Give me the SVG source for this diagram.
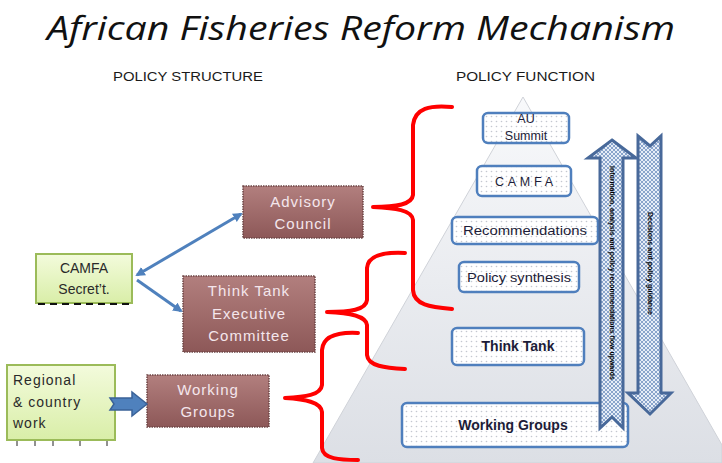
<svg xmlns="http://www.w3.org/2000/svg" width="722" height="463" viewBox="0 0 722 463">
  <defs>
    <style>
      .title { font-family: "Open Sans", "Liberation Sans", sans-serif; font-style: italic; font-size: 33px; fill: #111; }
      .head { font-family: "Liberation Sans", sans-serif; font-size: 12px; fill: #1a1a1a; }
      .brown { stroke: #6e4545; stroke-width: 1.5; stroke-dasharray: 1.5 1; }
      .btxt { font-family: "Liberation Sans", sans-serif; font-size: 15px; fill: #f4e6ec; letter-spacing: 1px; text-anchor: middle; }
      .green { fill: url(#gGreen); stroke: #9bbb59; stroke-width: 2; }
      .gtxt { font-family: "Liberation Sans", sans-serif; font-size: 14px; fill: #2a2a2a; }
      .pbox { fill: url(#dots); stroke: #4f7fbd; stroke-width: 2.5; }
      .ptxt { font-family: "Liberation Sans", sans-serif; font-size: 12.5px; fill: #1c1c38; text-anchor: middle; }
      .pbold { font-weight: bold; font-size: 14px; }
      .brace { fill: none; stroke: #ff0000; stroke-width: 4; stroke-linecap: round; stroke-linejoin: round; }
      .conn { fill: none; stroke: #4f81bd; stroke-width: 3; }
      .flow { fill: url(#hatch); stroke: #48699a; stroke-width: 3; stroke-linejoin: miter; }
      .vtxt { font-family: "Liberation Sans", sans-serif; font-size: 6.5px; font-weight: bold; fill: #000; }
    </style>
    <linearGradient id="gPyr" x1="0" y1="0" x2="0" y2="1">
      <stop offset="0" stop-color="#f8f9fb"/>
      <stop offset="1" stop-color="#dcdfe5"/>
    </linearGradient>
    <linearGradient id="gBrown" x1="0" y1="0" x2="0" y2="1">
      <stop offset="0" stop-color="#b27f7e"/>
      <stop offset="1" stop-color="#8d5858"/>
    </linearGradient>
    <linearGradient id="gGreen" x1="0" y1="0" x2="0" y2="1">
      <stop offset="0" stop-color="#f3fbdc"/>
      <stop offset="1" stop-color="#d9eea8"/>
    </linearGradient>
    <pattern id="dots" width="5" height="5" patternUnits="userSpaceOnUse">
      <rect width="5" height="5" fill="#ffffff"/>
      <circle cx="1.5" cy="1.5" r="0.8" fill="#c4c8d0"/>
    </pattern>
    <pattern id="hatch" width="4" height="4" patternUnits="userSpaceOnUse">
      <rect width="4" height="4" fill="#e6edf7"/>
      <path d="M0,0 L4,4 M4,0 L0,4" stroke="#7f9cc6" stroke-width="0.9"/>
    </pattern>
    <marker id="ah" viewBox="0 0 10 10" refX="8" refY="5" markerWidth="3.2" markerHeight="3.2" orient="auto-start-reverse">
      <path d="M0,0 L10,5 L0,10 z" fill="#4f81bd"/>
    </marker>
  </defs>

  <rect width="722" height="463" fill="#ffffff"/>

  <!-- heading -->
  <text class="title" x="361" y="40" text-anchor="middle" textLength="628" lengthAdjust="spacingAndGlyphs">African Fisheries Reform Mechanism</text>
  <text class="head" x="113" y="81" textLength="150" lengthAdjust="spacingAndGlyphs">POLICY STRUCTURE</text>
  <text class="head" x="456" y="81" textLength="139" lengthAdjust="spacingAndGlyphs">POLICY FUNCTION</text>

  <!-- pyramid backdrop -->
  <polygon points="523,97 313,463 722,463 722,445" fill="url(#gPyr)" stroke="#cfd2d8" stroke-width="1"/>

  <!-- pyramid levels -->
  <g id="au-summit">
    <rect class="pbox" x="483" y="113" width="86" height="30" rx="5"/>
    <text class="ptxt" x="526" y="123">AU</text>
    <text class="ptxt" x="526" y="140">Summit</text>
  </g>
  <g id="camfa">
    <rect class="pbox" x="477" y="166" width="94" height="30" rx="5"/>
    <text class="ptxt" x="524" y="186" textLength="58" lengthAdjust="spacing">CAMFA</text>
  </g>
  <g id="recommendations">
    <rect class="pbox" x="452" y="217" width="146" height="27" rx="5"/>
    <text class="ptxt" x="525" y="235" textLength="124" lengthAdjust="spacingAndGlyphs">Recommendations</text>
  </g>
  <g id="policy-synthesis">
    <rect class="pbox" x="459" y="262" width="120" height="30" rx="5"/>
    <text class="ptxt" x="519" y="282" textLength="104" lengthAdjust="spacingAndGlyphs">Policy synthesis</text>
  </g>
  <g id="think-tank">
    <rect class="pbox" x="452" y="328" width="132" height="37" rx="5"/>
    <text class="ptxt pbold" x="518" y="351">Think Tank</text>
  </g>
  <g id="working-groups-level">
    <rect class="pbox" x="402" y="403" width="226" height="44" rx="5"/>
    <text class="ptxt pbold" x="513" y="430">Working Groups</text>
  </g>

  <!-- flow arrows beside the pyramid -->
  <g id="upward-flow">
    <polygon class="flow" points="612,140 636,158 623,158 623,428 612,417 600,428 600,158 588,158"/>
    <text class="vtxt" transform="translate(609.5,166) rotate(90)" textLength="214" lengthAdjust="spacingAndGlyphs">Information, analysis and policy recommendations flow upwards</text>
  </g>
  <g id="downward-flow">
    <polygon class="flow" points="638,136 650,146 661,136 661,393 671,393 650,414 628,393 638,393"/>
    <text class="vtxt" transform="translate(647.5,212) rotate(90)" textLength="103" lengthAdjust="spacingAndGlyphs">Decisions and policy guidance</text>
  </g>

  <!-- structure bodies -->
  <g id="camfa-secretariat">
    <rect class="green" x="36" y="254" width="96" height="49"/>
    <line x1="38" y1="304" x2="131" y2="304" stroke="#111" stroke-width="2" stroke-dasharray="7 5"/>
    <text class="gtxt" x="84" y="273" text-anchor="middle" font-size="14" fill="#1a1a1a">CAMFA</text>
    <text class="gtxt" x="84" y="294" text-anchor="middle" font-size="14" fill="#1a1a1a">Secret’t.</text>
  </g>
  <g id="advisory-council">
    <rect class="brown" x="243" y="186" width="120" height="52" fill="url(#gBrown)"/>
    <text class="btxt" x="303" y="207">Advisory</text>
    <text class="btxt" x="303" y="229">Council</text>
  </g>
  <g id="think-tank-executive">
    <rect class="brown" x="183" y="276" width="132" height="76" fill="url(#gBrown)"/>
    <text class="btxt" x="249" y="296">Think Tank</text>
    <text class="btxt" x="249" y="319">Executive</text>
    <text class="btxt" x="249" y="341">Committee</text>
  </g>
  <g id="regional-work">
    <rect class="green" x="7" y="365" width="108" height="75"/>
    <path d="M17,441 v5 M35,441 v5 M53,441 v5 M80,441 v5 M107,441 v5" stroke="#222" stroke-width="1"/>
    <text class="gtxt" x="13" y="385" letter-spacing="1">Regional</text>
    <text class="gtxt" x="13" y="407" letter-spacing="1">&amp;  country</text>
    <text class="gtxt" x="13" y="428" letter-spacing="1">work</text>
  </g>
  <g id="working-groups">
    <rect class="brown" x="147" y="375" width="122" height="52" fill="url(#gBrown)"/>
    <text class="btxt" x="208" y="395">Working</text>
    <text class="btxt" x="208" y="417">Groups</text>
  </g>

  <!-- connectors and braces -->
  <g id="connectors">
    <line class="conn" x1="137" y1="275" x2="241" y2="214" marker-start="url(#ah)" marker-end="url(#ah)"/>
    <line class="conn" x1="137" y1="280" x2="181" y2="311" marker-end="url(#ah)"/>
    <polygon points="110,398 132,398 132,392 147,404 132,416 132,410 110,410 114,404" fill="#4f81bd" stroke="#3a6298" stroke-width="1.5"/>
    <path class="brace" d="M452,107 C430,105 415,108 413,125 L413,195 C412,205 395,207 373,207 C395,208 412,210 413,220 L413,290 C414,305 430,307 452,309"/>
    <path class="brace" d="M405,253 C385,252 368,255 367,268 L367,300 C366,310 350,312 327,312 C350,313 366,316 367,325 L367,355 C368,366 385,368 405,369"/>
    <path class="brace" d="M358,333 C338,332 323,336 322,350 L322,385 C321,395 305,397 285,398 C305,399 321,402 322,412 L322,448 C323,459 340,460 358,460"/>
  </g>
</svg>
